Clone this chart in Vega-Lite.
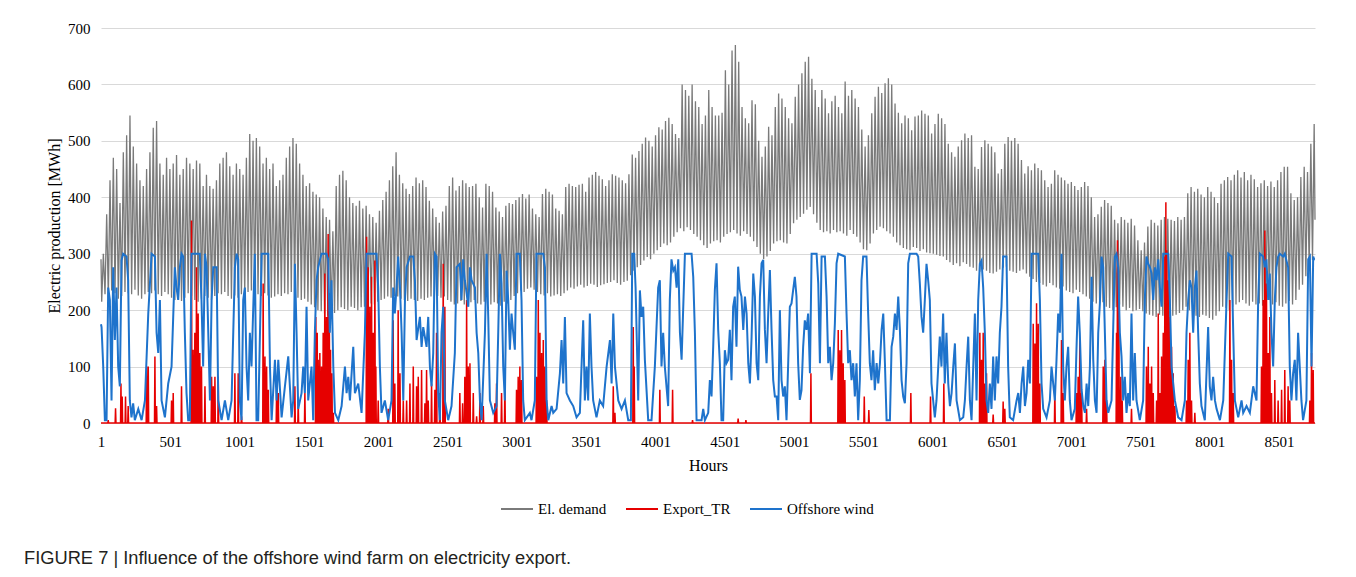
{
"$schema":"https://vega.github.io/schema/vega-lite/v6.json",
"width":1214,"height":395,
"autosize":{"type":"none"},
"padding":{"left":101,"top":28,"right":41,"bottom":154},
"background":"#ffffff",
"config":{"view":{"stroke":null},"font":"Liberation Serif","axis":{"labelFont":"Liberation Serif","titleFont":"Liberation Serif","labelColor":"#000000","titleColor":"#000000","titleFontWeight":"normal"},"legend":{"labelFont":"Liberation Serif"}},
"title":{"text":"FIGURE 7 | Influence of the offshore wind farm on electricity export.","orient":"bottom","anchor":"start","frame":"group","font":"Liberation Sans","fontSize":18.3,"fontWeight":"normal","color":"#231f20","baseline":"top","offset":33,"dx":-77},
"datasets":{
"dem":[{"h":1,"v":290},
{"h":6,"v":215},{"h":18,"v":300},{"h":30,"v":228},{"h":42,"v":370},{"h":54,"v":222},{"h":66,"v":430},{"h":78,"v":235},{"h":90,"v":470},{"h":102,"v":230},{"h":114,"v":450},{"h":126,"v":220},{"h":138,"v":390},{"h":150,"v":225},{"h":162,"v":480},
{"h":174,"v":232},{"h":186,"v":510},{"h":198,"v":230},{"h":210,"v":545},{"h":222,"v":228},{"h":234,"v":490},{"h":246,"v":236},{"h":258,"v":460},{"h":270,"v":226},{"h":282,"v":430},{"h":294,"v":220},{"h":306,"v":420},{"h":318,"v":228},{"h":330,"v":450},
{"h":342,"v":232},{"h":354,"v":480},{"h":366,"v":230},{"h":378,"v":523},{"h":390,"v":235},{"h":402,"v":535},{"h":414,"v":228},{"h":426,"v":460},{"h":438,"v":225},{"h":450,"v":440},{"h":462,"v":232},{"h":474,"v":470},{"h":486,"v":228},{"h":498,"v":450},
{"h":510,"v":222},{"h":522,"v":460},{"h":534,"v":218},{"h":546,"v":475},{"h":558,"v":225},{"h":570,"v":440},{"h":582,"v":216},{"h":594,"v":450},{"h":606,"v":222},{"h":618,"v":470},{"h":630,"v":230},{"h":642,"v":460},{"h":654,"v":225},{"h":666,"v":450},
{"h":678,"v":218},{"h":690,"v":465},{"h":702,"v":215},{"h":714,"v":460},{"h":726,"v":220},{"h":738,"v":420},{"h":750,"v":225},{"h":762,"v":440},{"h":774,"v":222},{"h":786,"v":420},{"h":798,"v":218},{"h":810,"v":415},{"h":822,"v":225},{"h":834,"v":430},
{"h":846,"v":230},{"h":858,"v":460},{"h":870,"v":228},{"h":882,"v":470},{"h":894,"v":232},{"h":906,"v":480},{"h":918,"v":225},{"h":930,"v":455},{"h":942,"v":220},{"h":954,"v":440},{"h":966,"v":226},{"h":978,"v":460},{"h":990,"v":222},{"h":1002,"v":450},
{"h":1014,"v":228},{"h":1026,"v":440},{"h":1038,"v":230},{"h":1050,"v":470},{"h":1062,"v":232},{"h":1074,"v":512},{"h":1086,"v":235},{"h":1098,"v":500},{"h":1110,"v":230},{"h":1122,"v":505},{"h":1134,"v":228},{"h":1146,"v":490},{"h":1158,"v":225},{"h":1170,"v":460},
{"h":1182,"v":230},{"h":1194,"v":470},{"h":1206,"v":226},{"h":1218,"v":450},{"h":1230,"v":222},{"h":1242,"v":460},{"h":1254,"v":224},{"h":1266,"v":420},{"h":1278,"v":228},{"h":1290,"v":430},{"h":1302,"v":225},{"h":1314,"v":440},{"h":1326,"v":230},{"h":1338,"v":470},
{"h":1350,"v":228},{"h":1362,"v":490},{"h":1374,"v":232},{"h":1386,"v":505},{"h":1398,"v":226},{"h":1410,"v":495},{"h":1422,"v":222},{"h":1434,"v":460},{"h":1446,"v":218},{"h":1458,"v":440},{"h":1470,"v":220},{"h":1482,"v":420},{"h":1494,"v":215},{"h":1506,"v":425},
{"h":1518,"v":210},{"h":1530,"v":410},{"h":1542,"v":205},{"h":1554,"v":405},{"h":1566,"v":200},{"h":1578,"v":400},{"h":1590,"v":198},{"h":1602,"v":380},{"h":1614,"v":194},{"h":1626,"v":365},{"h":1638,"v":190},{"h":1650,"v":360},{"h":1662,"v":188},{"h":1674,"v":340},
{"h":1686,"v":195},{"h":1698,"v":420},{"h":1710,"v":200},{"h":1722,"v":440},{"h":1734,"v":205},{"h":1746,"v":447},{"h":1758,"v":202},{"h":1770,"v":430},{"h":1782,"v":200},{"h":1794,"v":400},{"h":1806,"v":206},{"h":1818,"v":390},{"h":1830,"v":204},{"h":1842,"v":385},
{"h":1854,"v":200},{"h":1866,"v":394},{"h":1878,"v":205},{"h":1890,"v":380},{"h":1902,"v":206},{"h":1914,"v":385},{"h":1926,"v":208},{"h":1938,"v":370},{"h":1950,"v":212},{"h":1962,"v":365},{"h":1974,"v":210},{"h":1986,"v":355},{"h":1998,"v":215},{"h":2010,"v":376},
{"h":2022,"v":218},{"h":2034,"v":395},{"h":2046,"v":220},{"h":2058,"v":410},{"h":2070,"v":224},{"h":2082,"v":430},{"h":2094,"v":222},{"h":2106,"v":455},{"h":2118,"v":225},{"h":2130,"v":480},{"h":2142,"v":224},{"h":2154,"v":440},{"h":2166,"v":220},{"h":2178,"v":425},
{"h":2190,"v":218},{"h":2202,"v":415},{"h":2214,"v":216},{"h":2226,"v":406},{"h":2238,"v":220},{"h":2250,"v":420},{"h":2262,"v":218},{"h":2274,"v":435},{"h":2286,"v":216},{"h":2298,"v":425},{"h":2310,"v":220},{"h":2322,"v":430},{"h":2334,"v":218},{"h":2346,"v":418},
{"h":2358,"v":222},{"h":2370,"v":394},{"h":2382,"v":224},{"h":2394,"v":380},{"h":2406,"v":220},{"h":2418,"v":365},{"h":2430,"v":225},{"h":2442,"v":355},{"h":2454,"v":222},{"h":2466,"v":375},{"h":2478,"v":224},{"h":2490,"v":385},{"h":2502,"v":218},{"h":2514,"v":420},
{"h":2526,"v":215},{"h":2538,"v":435},{"h":2550,"v":210},{"h":2562,"v":412},{"h":2574,"v":212},{"h":2586,"v":420},{"h":2598,"v":216},{"h":2610,"v":430},{"h":2622,"v":210},{"h":2634,"v":425},{"h":2646,"v":208},{"h":2658,"v":418},{"h":2670,"v":214},{"h":2682,"v":420},
{"h":2694,"v":218},{"h":2706,"v":424},{"h":2718,"v":212},{"h":2730,"v":400},{"h":2742,"v":210},{"h":2754,"v":382},{"h":2766,"v":215},{"h":2778,"v":424},{"h":2790,"v":212},{"h":2802,"v":420},{"h":2814,"v":210},{"h":2826,"v":410},{"h":2838,"v":214},{"h":2850,"v":382},
{"h":2862,"v":212},{"h":2874,"v":375},{"h":2886,"v":208},{"h":2898,"v":365},{"h":2910,"v":215},{"h":2922,"v":385},{"h":2934,"v":212},{"h":2946,"v":390},{"h":2958,"v":218},{"h":2970,"v":388},{"h":2982,"v":225},{"h":2994,"v":395},{"h":3006,"v":230},{"h":3018,"v":400},
{"h":3030,"v":235},{"h":3042,"v":406},{"h":3054,"v":232},{"h":3066,"v":398},{"h":3078,"v":238},{"h":3090,"v":405},{"h":3102,"v":240},{"h":3114,"v":380},{"h":3126,"v":236},{"h":3138,"v":370},{"h":3150,"v":232},{"h":3162,"v":365},{"h":3174,"v":228},{"h":3186,"v":406},
{"h":3198,"v":226},{"h":3210,"v":415},{"h":3222,"v":230},{"h":3234,"v":410},{"h":3246,"v":224},{"h":3258,"v":405},{"h":3270,"v":226},{"h":3282,"v":380},{"h":3294,"v":228},{"h":3306,"v":376},{"h":3318,"v":225},{"h":3330,"v":370},{"h":3342,"v":230},{"h":3354,"v":418},
{"h":3366,"v":235},{"h":3378,"v":424},{"h":3390,"v":240},{"h":3402,"v":420},{"h":3414,"v":238},{"h":3426,"v":418},{"h":3438,"v":242},{"h":3450,"v":422},{"h":3462,"v":245},{"h":3474,"v":424},{"h":3486,"v":240},{"h":3498,"v":410},{"h":3510,"v":243},{"h":3522,"v":435},
{"h":3534,"v":247},{"h":3546,"v":440},{"h":3558,"v":245},{"h":3570,"v":445},{"h":3582,"v":241},{"h":3594,"v":438},{"h":3606,"v":244},{"h":3618,"v":432},{"h":3630,"v":246},{"h":3642,"v":420},{"h":3654,"v":248},{"h":3666,"v":430},{"h":3678,"v":250},{"h":3690,"v":441},
{"h":3702,"v":253},{"h":3714,"v":438},{"h":3726,"v":248},{"h":3738,"v":435},{"h":3750,"v":245},{"h":3762,"v":430},{"h":3774,"v":250},{"h":3786,"v":425},{"h":3798,"v":252},{"h":3810,"v":441},{"h":3822,"v":262},{"h":3834,"v":476},{"h":3846,"v":270},{"h":3858,"v":470},
{"h":3870,"v":276},{"h":3882,"v":482},{"h":3894,"v":280},{"h":3906,"v":495},{"h":3918,"v":288},{"h":3930,"v":506},{"h":3942,"v":294},{"h":3954,"v":500},{"h":3966,"v":290},{"h":3978,"v":490},{"h":3990,"v":300},{"h":4002,"v":510},{"h":4014,"v":306},{"h":4026,"v":524},
{"h":4038,"v":312},{"h":4050,"v":520},{"h":4062,"v":318},{"h":4074,"v":535},{"h":4086,"v":315},{"h":4098,"v":541},{"h":4110,"v":320},{"h":4122,"v":530},{"h":4134,"v":330},{"h":4146,"v":512},{"h":4158,"v":338},{"h":4170,"v":505},{"h":4182,"v":345},{"h":4194,"v":600},
{"h":4206,"v":340},{"h":4218,"v":590},{"h":4230,"v":347},{"h":4242,"v":580},{"h":4254,"v":342},{"h":4266,"v":600},{"h":4278,"v":335},{"h":4290,"v":570},{"h":4302,"v":330},{"h":4314,"v":560},{"h":4326,"v":324},{"h":4338,"v":530},{"h":4350,"v":315},{"h":4362,"v":545},
{"h":4374,"v":310},{"h":4386,"v":590},{"h":4398,"v":318},{"h":4410,"v":560},{"h":4422,"v":322},{"h":4434,"v":545},{"h":4446,"v":324},{"h":4458,"v":545},{"h":4470,"v":320},{"h":4482,"v":550},{"h":4494,"v":330},{"h":4506,"v":625},{"h":4518,"v":335},{"h":4530,"v":600},
{"h":4542,"v":338},{"h":4554,"v":660},{"h":4566,"v":342},{"h":4578,"v":670},{"h":4590,"v":336},{"h":4602,"v":640},{"h":4614,"v":332},{"h":4626,"v":560},{"h":4638,"v":340},{"h":4650,"v":540},{"h":4662,"v":335},{"h":4674,"v":531},{"h":4686,"v":330},{"h":4698,"v":572},
{"h":4710,"v":322},{"h":4722,"v":565},{"h":4734,"v":312},{"h":4746,"v":500},{"h":4758,"v":300},{"h":4770,"v":472},{"h":4782,"v":290},{"h":4794,"v":490},{"h":4806,"v":295},{"h":4818,"v":525},{"h":4830,"v":305},{"h":4842,"v":510},{"h":4854,"v":318},{"h":4866,"v":560},
{"h":4878,"v":322},{"h":4890,"v":584},{"h":4902,"v":324},{"h":4914,"v":575},{"h":4926,"v":320},{"h":4938,"v":560},{"h":4950,"v":318},{"h":4962,"v":540},{"h":4974,"v":335},{"h":4986,"v":531},{"h":4998,"v":354},{"h":5010,"v":578},{"h":5022,"v":360},{"h":5034,"v":600},
{"h":5046,"v":365},{"h":5058,"v":620},{"h":5070,"v":371},{"h":5082,"v":640},{"h":5094,"v":378},{"h":5106,"v":649},{"h":5118,"v":383},{"h":5130,"v":610},{"h":5142,"v":370},{"h":5154,"v":590},{"h":5166,"v":355},{"h":5178,"v":560},{"h":5190,"v":342},{"h":5202,"v":590},
{"h":5214,"v":338},{"h":5226,"v":575},{"h":5238,"v":340},{"h":5250,"v":549},{"h":5262,"v":336},{"h":5274,"v":570},{"h":5286,"v":342},{"h":5298,"v":580},{"h":5310,"v":338},{"h":5322,"v":560},{"h":5334,"v":340},{"h":5346,"v":549},{"h":5358,"v":336},{"h":5370,"v":605},
{"h":5382,"v":332},{"h":5394,"v":580},{"h":5406,"v":342},{"h":5418,"v":590},{"h":5430,"v":335},{"h":5442,"v":575},{"h":5454,"v":330},{"h":5466,"v":560},{"h":5478,"v":320},{"h":5490,"v":520},{"h":5502,"v":308},{"h":5514,"v":490},{"h":5526,"v":306},{"h":5538,"v":510},
{"h":5550,"v":318},{"h":5562,"v":549},{"h":5574,"v":336},{"h":5586,"v":578},{"h":5598,"v":342},{"h":5610,"v":596},{"h":5622,"v":348},{"h":5634,"v":585},{"h":5646,"v":345},{"h":5658,"v":602},{"h":5670,"v":340},{"h":5682,"v":611},{"h":5694,"v":336},{"h":5706,"v":600},
{"h":5718,"v":330},{"h":5730,"v":566},{"h":5742,"v":320},{"h":5754,"v":550},{"h":5766,"v":315},{"h":5778,"v":531},{"h":5790,"v":310},{"h":5802,"v":545},{"h":5814,"v":308},{"h":5826,"v":540},{"h":5838,"v":306},{"h":5850,"v":519},{"h":5862,"v":312},{"h":5874,"v":543},
{"h":5886,"v":310},{"h":5898,"v":545},{"h":5910,"v":305},{"h":5922,"v":554},{"h":5934,"v":308},{"h":5946,"v":548},{"h":5958,"v":302},{"h":5970,"v":545},{"h":5982,"v":301},{"h":5994,"v":513},{"h":6006,"v":300},{"h":6018,"v":530},{"h":6030,"v":298},{"h":6042,"v":548},
{"h":6054,"v":296},{"h":6066,"v":540},{"h":6078,"v":295},{"h":6090,"v":530},{"h":6102,"v":289},{"h":6114,"v":495},{"h":6126,"v":285},{"h":6138,"v":480},{"h":6150,"v":280},{"h":6162,"v":472},{"h":6174,"v":283},{"h":6186,"v":490},{"h":6198,"v":278},{"h":6210,"v":501},
{"h":6222,"v":285},{"h":6234,"v":513},{"h":6246,"v":282},{"h":6258,"v":505},{"h":6270,"v":277},{"h":6282,"v":510},{"h":6294,"v":275},{"h":6306,"v":454},{"h":6318,"v":270},{"h":6330,"v":450},{"h":6342,"v":268},{"h":6354,"v":489},{"h":6366,"v":272},{"h":6378,"v":501},
{"h":6390,"v":270},{"h":6402,"v":495},{"h":6414,"v":266},{"h":6426,"v":490},{"h":6438,"v":265},{"h":6450,"v":480},{"h":6462,"v":268},{"h":6474,"v":442},{"h":6486,"v":272},{"h":6498,"v":450},{"h":6510,"v":275},{"h":6522,"v":495},{"h":6534,"v":277},{"h":6546,"v":507},
{"h":6558,"v":270},{"h":6570,"v":500},{"h":6582,"v":268},{"h":6594,"v":505},{"h":6606,"v":266},{"h":6618,"v":495},{"h":6630,"v":270},{"h":6642,"v":466},{"h":6654,"v":272},{"h":6666,"v":442},{"h":6678,"v":265},{"h":6690,"v":455},{"h":6702,"v":259},{"h":6714,"v":448},
{"h":6726,"v":255},{"h":6738,"v":460},{"h":6750,"v":250},{"h":6762,"v":452},{"h":6774,"v":248},{"h":6786,"v":448},{"h":6798,"v":245},{"h":6810,"v":430},{"h":6822,"v":242},{"h":6834,"v":418},{"h":6846,"v":248},{"h":6858,"v":424},{"h":6870,"v":244},{"h":6882,"v":448},
{"h":6894,"v":240},{"h":6906,"v":440},{"h":6918,"v":238},{"h":6930,"v":435},{"h":6942,"v":242},{"h":6954,"v":430},{"h":6966,"v":235},{"h":6978,"v":424},{"h":6990,"v":232},{"h":7002,"v":427},{"h":7014,"v":230},{"h":7026,"v":420},{"h":7038,"v":236},{"h":7050,"v":413},
{"h":7062,"v":232},{"h":7074,"v":418},{"h":7086,"v":228},{"h":7098,"v":427},{"h":7110,"v":224},{"h":7122,"v":420},{"h":7134,"v":220},{"h":7146,"v":400},{"h":7158,"v":215},{"h":7170,"v":365},{"h":7182,"v":212},{"h":7194,"v":370},{"h":7206,"v":218},{"h":7218,"v":383},
{"h":7230,"v":214},{"h":7242,"v":395},{"h":7254,"v":206},{"h":7266,"v":390},{"h":7278,"v":204},{"h":7290,"v":385},{"h":7302,"v":200},{"h":7314,"v":360},{"h":7326,"v":205},{"h":7338,"v":354},{"h":7350,"v":210},{"h":7362,"v":365},{"h":7374,"v":206},{"h":7386,"v":360},
{"h":7398,"v":200},{"h":7410,"v":355},{"h":7422,"v":204},{"h":7434,"v":362},{"h":7446,"v":198},{"h":7458,"v":350},{"h":7470,"v":200},{"h":7482,"v":324},{"h":7494,"v":202},{"h":7506,"v":306},{"h":7518,"v":198},{"h":7530,"v":320},{"h":7542,"v":194},{"h":7554,"v":348},
{"h":7566,"v":192},{"h":7578,"v":360},{"h":7590,"v":190},{"h":7602,"v":355},{"h":7614,"v":188},{"h":7626,"v":350},{"h":7638,"v":192},{"h":7650,"v":360},{"h":7662,"v":190},{"h":7674,"v":365},{"h":7686,"v":194},{"h":7698,"v":362},{"h":7710,"v":188},{"h":7722,"v":360},
{"h":7734,"v":190},{"h":7746,"v":358},{"h":7758,"v":192},{"h":7770,"v":365},{"h":7782,"v":195},{"h":7794,"v":360},{"h":7806,"v":200},{"h":7818,"v":365},{"h":7830,"v":206},{"h":7842,"v":407},{"h":7854,"v":200},{"h":7866,"v":418},{"h":7878,"v":195},{"h":7890,"v":410},
{"h":7902,"v":190},{"h":7914,"v":415},{"h":7926,"v":188},{"h":7938,"v":405},{"h":7950,"v":192},{"h":7962,"v":400},{"h":7974,"v":190},{"h":7986,"v":418},{"h":7998,"v":186},{"h":8010,"v":410},{"h":8022,"v":183},{"h":8034,"v":400},{"h":8046,"v":190},{"h":8058,"v":390},
{"h":8070,"v":198},{"h":8082,"v":424},{"h":8094,"v":206},{"h":8106,"v":430},{"h":8118,"v":204},{"h":8130,"v":436},{"h":8142,"v":200},{"h":8154,"v":430},{"h":8166,"v":206},{"h":8178,"v":440},{"h":8190,"v":210},{"h":8202,"v":448},{"h":8214,"v":214},{"h":8226,"v":435},
{"h":8238,"v":218},{"h":8250,"v":445},{"h":8262,"v":212},{"h":8274,"v":430},{"h":8286,"v":208},{"h":8298,"v":440},{"h":8310,"v":215},{"h":8322,"v":432},{"h":8334,"v":210},{"h":8346,"v":418},{"h":8358,"v":212},{"h":8370,"v":425},{"h":8382,"v":208},{"h":8394,"v":430},
{"h":8406,"v":215},{"h":8418,"v":420},{"h":8430,"v":218},{"h":8442,"v":428},{"h":8454,"v":210},{"h":8466,"v":418},{"h":8478,"v":214},{"h":8490,"v":430},{"h":8502,"v":208},{"h":8514,"v":445},{"h":8526,"v":206},{"h":8538,"v":454},{"h":8550,"v":212},{"h":8562,"v":454},
{"h":8574,"v":216},{"h":8586,"v":407},{"h":8598,"v":210},{"h":8610,"v":395},{"h":8622,"v":218},{"h":8634,"v":400},{"h":8646,"v":236},{"h":8658,"v":436},{"h":8670,"v":245},{"h":8682,"v":454},{"h":8694,"v":260},{"h":8706,"v":445},{"h":8718,"v":275},{"h":8730,"v":495},
{"h":8742,"v":289},{"h":8754,"v":530},{"h":8760,"v":360}],
"exp":[{"h":1,"v":0},
{"h":50,"v":0},{"h":53,"v":5},{"h":56,"v":0},{"h":103,"v":0},{"h":106,"v":26},{"h":109,"v":0},{"h":142,"v":0},{"h":145,"v":70},{"h":148,"v":0},{"h":151,"v":0},{"h":154,"v":47},{"h":157,"v":0},{"h":175,"v":0},{"h":178,"v":47},{"h":181,"v":0},{"h":194,"v":0},{"h":197,"v":30},{"h":200,"v":0},
{"h":327,"v":0},{"h":330,"v":100},{"h":333,"v":0},{"h":339,"v":0},{"h":342,"v":100},{"h":345,"v":0},{"h":387,"v":0},{"h":390,"v":118},{"h":393,"v":0},{"h":399,"v":0},{"h":402,"v":30},{"h":405,"v":0},
{"h":507,"v":0},{"h":510,"v":40},{"h":513,"v":0},{"h":519,"v":0},{"h":522,"v":53},{"h":525,"v":0},{"h":579,"v":0},{"h":582,"v":65},{"h":585,"v":0},
{"h":651,"v":0},{"h":654,"v":359},{"h":657,"v":0},{"h":663,"v":0},{"h":666,"v":130},{"h":669,"v":0},{"h":675,"v":0},{"h":678,"v":160},{"h":681,"v":0},{"h":687,"v":0},{"h":690,"v":276},{"h":693,"v":0},{"h":699,"v":0},{"h":702,"v":194},{"h":705,"v":0},{"h":711,"v":0},{"h":714,"v":124},{"h":717,"v":0},{"h":723,"v":0},{"h":726,"v":100},{"h":729,"v":0},
{"h":748,"v":0},{"h":751,"v":65},{"h":754,"v":0},{"h":796,"v":0},{"h":799,"v":82},{"h":802,"v":0},{"h":808,"v":0},{"h":811,"v":65},{"h":814,"v":0},{"h":820,"v":0},{"h":823,"v":82},{"h":826,"v":0},{"h":844,"v":0},{"h":847,"v":82},{"h":850,"v":0},
{"h":964,"v":0},{"h":967,"v":88},{"h":970,"v":0},{"h":988,"v":0},{"h":991,"v":88},{"h":994,"v":0},{"h":1012,"v":0},{"h":1015,"v":12},{"h":1018,"v":0},
{"h":1168,"v":0},{"h":1171,"v":247},{"h":1174,"v":0},{"h":1181,"v":0},{"h":1184,"v":118},{"h":1187,"v":0},{"h":1193,"v":0},{"h":1196,"v":100},{"h":1199,"v":0},{"h":1205,"v":0},{"h":1208,"v":59},{"h":1211,"v":0},
{"h":1265,"v":0},{"h":1268,"v":59},{"h":1271,"v":0},{"h":1277,"v":0},{"h":1280,"v":53},{"h":1283,"v":0},{"h":1397,"v":0},{"h":1400,"v":65},{"h":1403,"v":0},{"h":1421,"v":0},{"h":1424,"v":40},{"h":1427,"v":0},{"h":1469,"v":0},{"h":1472,"v":53},{"h":1475,"v":0},
{"h":1548,"v":0},{"h":1551,"v":188},{"h":1554,"v":0},{"h":1558,"v":0},{"h":1561,"v":160},{"h":1564,"v":0},{"h":1565,"v":0},{"h":1568,"v":112},{"h":1571,"v":0},{"h":1577,"v":0},{"h":1580,"v":124},{"h":1583,"v":0},{"h":1589,"v":0},{"h":1592,"v":100},{"h":1595,"v":0},{"h":1601,"v":0},{"h":1604,"v":160},{"h":1607,"v":0},{"h":1613,"v":0},{"h":1616,"v":265},{"h":1619,"v":0},{"h":1625,"v":0},{"h":1628,"v":188},{"h":1631,"v":0},{"h":1637,"v":0},{"h":1640,"v":335},{"h":1643,"v":0},{"h":1645,"v":0},{"h":1648,"v":230},{"h":1651,"v":0},{"h":1654,"v":0},{"h":1657,"v":130},{"h":1660,"v":0},{"h":1664,"v":0},{"h":1667,"v":88},{"h":1670,"v":0},{"h":1674,"v":0},{"h":1677,"v":18},{"h":1680,"v":0},
{"h":1914,"v":0},{"h":1917,"v":330},{"h":1920,"v":0},{"h":1926,"v":0},{"h":1929,"v":276},{"h":1932,"v":0},{"h":1938,"v":0},{"h":1941,"v":206},{"h":1944,"v":0},{"h":1950,"v":0},{"h":1953,"v":259},{"h":1956,"v":0},{"h":1962,"v":0},{"h":1965,"v":160},{"h":1968,"v":0},{"h":1974,"v":0},{"h":1977,"v":288},{"h":1980,"v":0},{"h":1981,"v":0},{"h":1984,"v":100},{"h":1987,"v":0},{"h":1998,"v":0},{"h":2001,"v":40},{"h":2004,"v":0},
{"h":2070,"v":0},{"h":2073,"v":25},{"h":2076,"v":0},{"h":2106,"v":0},{"h":2109,"v":182},{"h":2112,"v":0},{"h":2118,"v":0},{"h":2121,"v":70},{"h":2124,"v":0},{"h":2142,"v":0},{"h":2145,"v":200},{"h":2148,"v":0},{"h":2155,"v":0},{"h":2158,"v":88},{"h":2161,"v":0},{"h":2179,"v":0},{"h":2182,"v":40},{"h":2185,"v":0},{"h":2203,"v":0},{"h":2206,"v":40},{"h":2209,"v":0},{"h":2227,"v":0},{"h":2230,"v":70},{"h":2233,"v":0},{"h":2251,"v":0},{"h":2254,"v":100},{"h":2257,"v":0},{"h":2275,"v":0},{"h":2278,"v":65},{"h":2281,"v":0},{"h":2287,"v":0},{"h":2290,"v":82},{"h":2293,"v":0},{"h":2311,"v":0},{"h":2314,"v":94},{"h":2317,"v":0},{"h":2335,"v":0},{"h":2338,"v":35},{"h":2341,"v":0},{"h":2347,"v":0},{"h":2350,"v":94},{"h":2353,"v":0},{"h":2359,"v":0},{"h":2362,"v":40},{"h":2365,"v":0},{"h":2383,"v":0},{"h":2386,"v":70},{"h":2389,"v":0},{"h":2407,"v":0},{"h":2410,"v":59},{"h":2413,"v":0},{"h":2419,"v":0},{"h":2422,"v":160},{"h":2425,"v":0},{"h":2443,"v":0},{"h":2446,"v":53},{"h":2449,"v":0},{"h":2467,"v":0},{"h":2470,"v":282},{"h":2473,"v":0},{"h":2479,"v":0},{"h":2482,"v":206},{"h":2485,"v":0},
{"h":2587,"v":0},{"h":2590,"v":53},{"h":2593,"v":0},{"h":2607,"v":0},{"h":2610,"v":35},{"h":2613,"v":0},{"h":2623,"v":0},{"h":2626,"v":82},{"h":2629,"v":0},{"h":2636,"v":0},{"h":2639,"v":218},{"h":2642,"v":0},{"h":2648,"v":0},{"h":2651,"v":100},{"h":2654,"v":0},{"h":2660,"v":0},{"h":2663,"v":106},{"h":2666,"v":0},{"h":2684,"v":0},{"h":2687,"v":53},{"h":2690,"v":0},{"h":2708,"v":0},{"h":2711,"v":12},{"h":2714,"v":0},{"h":2732,"v":0},{"h":2735,"v":53},{"h":2738,"v":0},{"h":2756,"v":0},{"h":2759,"v":30},{"h":2762,"v":0},
{"h":2840,"v":0},{"h":2843,"v":35},{"h":2846,"v":0},{"h":2852,"v":0},{"h":2855,"v":70},{"h":2858,"v":0},{"h":2888,"v":0},{"h":2891,"v":53},{"h":2894,"v":0},{"h":2912,"v":0},{"h":2915,"v":76},{"h":2918,"v":0},
{"h":2996,"v":0},{"h":2999,"v":59},{"h":3002,"v":0},{"h":3008,"v":0},{"h":3011,"v":82},{"h":3014,"v":0},{"h":3020,"v":0},{"h":3023,"v":100},{"h":3026,"v":0},{"h":3032,"v":0},{"h":3035,"v":76},{"h":3038,"v":0},
{"h":3140,"v":0},{"h":3143,"v":82},{"h":3146,"v":0},{"h":3153,"v":0},{"h":3156,"v":218},{"h":3159,"v":0},{"h":3165,"v":0},{"h":3168,"v":160},{"h":3171,"v":0},{"h":3177,"v":0},{"h":3180,"v":124},{"h":3183,"v":0},{"h":3189,"v":0},{"h":3192,"v":147},{"h":3195,"v":0},{"h":3201,"v":0},{"h":3204,"v":100},{"h":3207,"v":0},{"h":3213,"v":0},{"h":3216,"v":40},{"h":3219,"v":0},
{"h":3694,"v":0},{"h":3697,"v":65},{"h":3700,"v":0},{"h":3706,"v":0},{"h":3709,"v":18},{"h":3712,"v":0},{"h":3838,"v":0},{"h":3841,"v":170},{"h":3844,"v":0},{"h":3845,"v":0},{"h":3848,"v":100},{"h":3851,"v":0},
{"h":4030,"v":0},{"h":4033,"v":59},{"h":4036,"v":0},{"h":4122,"v":0},{"h":4125,"v":59},{"h":4128,"v":0},{"h":4266,"v":0},{"h":4269,"v":5},{"h":4272,"v":0},
{"h":4595,"v":0},{"h":4598,"v":8},{"h":4601,"v":0},{"h":4651,"v":0},{"h":4654,"v":5},{"h":4657,"v":0},{"h":5120,"v":0},{"h":5123,"v":88},{"h":5126,"v":0},
{"h":5317,"v":0},{"h":5320,"v":165},{"h":5323,"v":0},{"h":5329,"v":0},{"h":5332,"v":129},{"h":5335,"v":0},{"h":5341,"v":0},{"h":5344,"v":165},{"h":5347,"v":0},{"h":5353,"v":0},{"h":5356,"v":106},{"h":5359,"v":0},{"h":5365,"v":0},{"h":5368,"v":76},{"h":5371,"v":0},
{"h":5505,"v":0},{"h":5508,"v":47},{"h":5511,"v":0},{"h":5538,"v":0},{"h":5541,"v":23},{"h":5544,"v":0},{"h":5841,"v":0},{"h":5844,"v":53},{"h":5847,"v":0},
{"h":5983,"v":0},{"h":5986,"v":47},{"h":5989,"v":0},{"h":6079,"v":0},{"h":6082,"v":70},{"h":6085,"v":0},
{"h":6339,"v":0},{"h":6342,"v":160},{"h":6345,"v":0},{"h":6351,"v":0},{"h":6354,"v":112},{"h":6357,"v":0},{"h":6363,"v":0},{"h":6366,"v":160},{"h":6369,"v":0},{"h":6375,"v":0},{"h":6378,"v":70},{"h":6381,"v":0},{"h":6387,"v":0},{"h":6390,"v":88},{"h":6393,"v":0},{"h":6435,"v":0},{"h":6438,"v":15},{"h":6441,"v":0},{"h":6507,"v":0},{"h":6510,"v":38},{"h":6513,"v":0},{"h":6519,"v":0},{"h":6522,"v":25},{"h":6525,"v":0},
{"h":6724,"v":0},{"h":6727,"v":176},{"h":6730,"v":0},{"h":6736,"v":0},{"h":6739,"v":141},{"h":6742,"v":0},{"h":6748,"v":0},{"h":6751,"v":212},{"h":6754,"v":0},{"h":6760,"v":0},{"h":6763,"v":176},{"h":6766,"v":0},{"h":6772,"v":0},{"h":6775,"v":70},{"h":6778,"v":0},
{"h":6880,"v":0},{"h":6883,"v":59},{"h":6886,"v":0},{"h":6928,"v":0},{"h":6931,"v":147},{"h":6934,"v":0},{"h":6940,"v":0},{"h":6943,"v":53},{"h":6946,"v":0},
{"h":7036,"v":0},{"h":7039,"v":53},{"h":7042,"v":0},{"h":7048,"v":0},{"h":7051,"v":82},{"h":7054,"v":0},{"h":7060,"v":0},{"h":7063,"v":147},{"h":7066,"v":0},{"h":7073,"v":0},{"h":7076,"v":53},{"h":7079,"v":0},{"h":7109,"v":0},{"h":7112,"v":25},{"h":7115,"v":0},
{"h":7229,"v":0},{"h":7232,"v":100},{"h":7235,"v":0},{"h":7241,"v":0},{"h":7244,"v":112},{"h":7247,"v":0},{"h":7253,"v":0},{"h":7256,"v":40},{"h":7259,"v":0},
{"h":7325,"v":0},{"h":7328,"v":160},{"h":7331,"v":0},{"h":7332,"v":0},{"h":7335,"v":324},{"h":7338,"v":0},{"h":7342,"v":0},{"h":7345,"v":218},{"h":7348,"v":0},{"h":7356,"v":0},{"h":7359,"v":82},{"h":7362,"v":0},{"h":7366,"v":0},{"h":7369,"v":40},{"h":7372,"v":0},{"h":7433,"v":0},{"h":7436,"v":25},{"h":7439,"v":0},
{"h":7541,"v":0},{"h":7544,"v":100},{"h":7547,"v":0},{"h":7554,"v":0},{"h":7557,"v":135},{"h":7560,"v":0},{"h":7566,"v":0},{"h":7569,"v":70},{"h":7572,"v":0},{"h":7578,"v":0},{"h":7581,"v":100},{"h":7584,"v":0},{"h":7590,"v":0},{"h":7593,"v":53},{"h":7596,"v":0},{"h":7614,"v":0},{"h":7617,"v":40},{"h":7620,"v":0},{"h":7626,"v":0},{"h":7629,"v":194},{"h":7632,"v":0},{"h":7638,"v":0},{"h":7641,"v":53},{"h":7644,"v":0},{"h":7650,"v":0},{"h":7653,"v":118},{"h":7656,"v":0},{"h":7662,"v":0},{"h":7665,"v":160},{"h":7668,"v":0},{"h":7674,"v":0},{"h":7677,"v":295},{"h":7680,"v":0},{"h":7681,"v":0},{"h":7684,"v":391},{"h":7687,"v":0},{"h":7688,"v":0},{"h":7691,"v":306},{"h":7694,"v":0},{"h":7698,"v":0},{"h":7701,"v":253},{"h":7704,"v":0},{"h":7710,"v":0},{"h":7713,"v":188},{"h":7716,"v":0},{"h":7722,"v":0},{"h":7725,"v":135},{"h":7728,"v":0},{"h":7734,"v":0},{"h":7737,"v":88},{"h":7740,"v":0},{"h":7746,"v":0},{"h":7749,"v":30},{"h":7752,"v":0},
{"h":7830,"v":0},{"h":7833,"v":40},{"h":7836,"v":0},{"h":7842,"v":0},{"h":7845,"v":112},{"h":7848,"v":0},{"h":7854,"v":0},{"h":7857,"v":160},{"h":7860,"v":0},{"h":7866,"v":0},{"h":7869,"v":40},{"h":7872,"v":0},{"h":7890,"v":0},{"h":7893,"v":18},{"h":7896,"v":0},
{"h":8143,"v":0},{"h":8146,"v":218},{"h":8149,"v":0},{"h":8155,"v":0},{"h":8158,"v":112},{"h":8161,"v":0},{"h":8167,"v":0},{"h":8170,"v":53},{"h":8173,"v":0},
{"h":8371,"v":0},{"h":8374,"v":100},{"h":8377,"v":0},{"h":8383,"v":0},{"h":8386,"v":218},{"h":8389,"v":0},{"h":8395,"v":0},{"h":8398,"v":341},{"h":8401,"v":0},{"h":8407,"v":0},{"h":8410,"v":247},{"h":8413,"v":0},{"h":8419,"v":0},{"h":8422,"v":124},{"h":8425,"v":0},{"h":8431,"v":0},{"h":8434,"v":188},{"h":8437,"v":0},{"h":8443,"v":0},{"h":8446,"v":53},{"h":8449,"v":0},{"h":8467,"v":0},{"h":8470,"v":76},{"h":8473,"v":0},{"h":8491,"v":0},{"h":8494,"v":40},{"h":8497,"v":0},{"h":8516,"v":0},{"h":8519,"v":59},{"h":8522,"v":0},{"h":8539,"v":0},{"h":8542,"v":94},{"h":8545,"v":0},{"h":8563,"v":0},{"h":8566,"v":65},{"h":8569,"v":0},{"h":8575,"v":0},{"h":8578,"v":40},{"h":8581,"v":0},
{"h":8720,"v":0},{"h":8723,"v":40},{"h":8726,"v":0},{"h":8732,"v":0},{"h":8735,"v":124},{"h":8738,"v":0},{"h":8744,"v":0},{"h":8747,"v":94},{"h":8750,"v":0},{"h":8760,"v":0}],
"wind":[{"h":1,"v":175},{"h":5,"v":170},{"h":17,"v":100},{"h":29,"v":5},{"h":41,"v":5},{"h":53,"v":240},{"h":65,"v":218},{"h":77,"v":40},{"h":89,"v":276},{"h":101,"v":147},{"h":113,"v":240},{"h":125,"v":100},{"h":137,"v":65},{"h":149,"v":288},{"h":161,"v":300},{"h":185,"v":295},{"h":197,"v":253},{"h":209,"v":40},{"h":221,"v":10},{"h":233,"v":35},{"h":245,"v":5},{"h":270,"v":25},{"h":294,"v":5},{"h":318,"v":40},{"h":342,"v":194},{"h":366,"v":300},{"h":390,"v":295},{"h":402,"v":160},{"h":414,"v":124},{"h":426,"v":218},{"h":438,"v":40},{"h":462,"v":10},{"h":486,"v":70},{"h":510,"v":100},{"h":534,"v":276},{"h":546,"v":240},{"h":558,"v":218},{"h":570,"v":276},{"h":582,"v":300},{"h":594,"v":295},{"h":606,"v":160},{"h":618,"v":53},{"h":630,"v":5},{"h":642,"v":5},{"h":654,"v":300},{"h":678,"v":300},{"h":714,"v":300},{"h":726,"v":218},{"h":738,"v":100},{"h":751,"v":300},{"h":763,"v":276},{"h":775,"v":160},{"h":787,"v":40},{"h":799,"v":218},{"h":811,"v":276},{"h":835,"v":276},{"h":847,"v":40},{"h":871,"v":5},{"h":895,"v":40},{"h":919,"v":5},{"h":943,"v":40},{"h":967,"v":276},{"h":979,"v":300},{"h":991,"v":290},{"h":1003,"v":40},{"h":1015,"v":5},{"h":1027,"v":218},{"h":1039,"v":240},{"h":1051,"v":100},{"h":1063,"v":40},{"h":1075,"v":160},{"h":1087,"v":100},{"h":1111,"v":300},{"h":1123,"v":5},{"h":1135,"v":5},{"h":1160,"v":300},{"h":1208,"v":300},{"h":1220,"v":100},{"h":1232,"v":5},{"h":1256,"v":112},{"h":1268,"v":40},{"h":1280,"v":112},{"h":1304,"v":10},{"h":1328,"v":65},{"h":1352,"v":118},{"h":1376,"v":10},{"h":1388,"v":40},{"h":1400,"v":282},{"h":1412,"v":160},{"h":1424,"v":25},{"h":1448,"v":53},{"h":1460,"v":100},
{"h":1472,"v":53},{"h":1484,"v":206},{"h":1496,"v":40},{"h":1520,"v":100},{"h":1532,"v":5},{"h":1544,"v":160},{"h":1556,"v":253},{"h":1568,"v":276},{"h":1592,"v":300},{"h":1628,"v":300},{"h":1640,"v":290},{"h":1652,"v":160},{"h":1664,"v":253},{"h":1677,"v":100},{"h":1689,"v":18},{"h":1713,"v":5},{"h":1737,"v":30},{"h":1761,"v":100},{"h":1773,"v":53},{"h":1785,"v":82},{"h":1797,"v":40},{"h":1821,"v":135},{"h":1833,"v":53},{"h":1857,"v":70},{"h":1881,"v":18},{"h":1905,"v":160},{"h":1917,"v":300},{"h":1989,"v":300},{"h":2001,"v":240},{"h":2013,"v":100},{"h":2025,"v":18},{"h":2049,"v":40},{"h":2073,"v":5},{"h":2097,"v":40},{"h":2109,"v":240},{"h":2121,"v":194},{"h":2133,"v":240},{"h":2145,"v":295},{"h":2158,"v":240},{"h":2170,"v":160},{"h":2182,"v":40},{"h":2194,"v":218},{"h":2206,"v":276},{"h":2230,"v":295},{"h":2254,"v":295},{"h":2266,"v":253},{"h":2278,"v":147},{"h":2302,"v":188},{"h":2314,"v":135},{"h":2326,"v":170},{"h":2350,"v":135},{"h":2362,"v":188},{"h":2374,"v":100},{"h":2386,"v":65},{"h":2398,"v":124},{"h":2410,"v":300},{"h":2422,"v":295},{"h":2434,"v":53},{"h":2446,"v":5},{"h":2458,"v":160},{"h":2470,"v":206},{"h":2482,"v":40},{"h":2506,"v":5},{"h":2530,"v":30},{"h":2554,"v":124},{"h":2566,"v":276},{"h":2590,"v":282},{"h":2602,"v":218},{"h":2614,"v":290},{"h":2626,"v":253},{"h":2639,"v":230},{"h":2651,"v":206},{"h":2663,"v":276},{"h":2675,"v":253},{"h":2699,"v":240},{"h":2711,"v":160},{"h":2723,"v":124},{"h":2735,"v":40},{"h":2747,"v":5},{"h":2771,"v":160},{"h":2783,"v":300},{"h":2795,"v":188},{"h":2807,"v":40},{"h":2831,"v":18},{"h":2855,"v":30},{"h":2867,"v":160},{"h":2879,"v":300},{"h":2891,"v":247},{"h":2903,"v":100},{"h":2915,"v":40},
{"h":2927,"v":270},{"h":2939,"v":218},{"h":2951,"v":130},{"h":2963,"v":194},{"h":2975,"v":160},{"h":2987,"v":130},{"h":2999,"v":300},{"h":3023,"v":300},{"h":3035,"v":218},{"h":3047,"v":40},{"h":3059,"v":5},{"h":3095,"v":18},{"h":3107,"v":5},{"h":3131,"v":40},{"h":3143,"v":300},{"h":3192,"v":300},{"h":3204,"v":276},{"h":3216,"v":40},{"h":3228,"v":5},{"h":3252,"v":30},{"h":3264,"v":18},{"h":3288,"v":25},{"h":3312,"v":88},{"h":3324,"v":147},{"h":3336,"v":70},{"h":3348,"v":188},{"h":3360,"v":53},{"h":3384,"v":40},{"h":3408,"v":30},{"h":3432,"v":10},{"h":3456,"v":18},{"h":3480,"v":182},{"h":3492,"v":40},{"h":3504,"v":100},{"h":3516,"v":40},{"h":3528,"v":194},{"h":3540,"v":100},{"h":3552,"v":40},{"h":3576,"v":10},{"h":3600,"v":40},{"h":3624,"v":30},{"h":3649,"v":100},{"h":3673,"v":147},{"h":3685,"v":70},{"h":3697,"v":194},{"h":3709,"v":100},{"h":3733,"v":40},{"h":3757,"v":25},{"h":3781,"v":40},{"h":3805,"v":5},{"h":3824,"v":5},{"h":3834,"v":300},{"h":3848,"v":300},{"h":3858,"v":240},{"h":3877,"v":40},{"h":3889,"v":235},{"h":3901,"v":188},{"h":3913,"v":206},{"h":3925,"v":112},{"h":3949,"v":5},{"h":3973,"v":5},{"h":3997,"v":100},{"h":4021,"v":240},{"h":4033,"v":253},{"h":4045,"v":100},{"h":4057,"v":160},{"h":4069,"v":100},{"h":4093,"v":30},{"h":4105,"v":218},{"h":4117,"v":290},{"h":4130,"v":270},{"h":4142,"v":276},{"h":4154,"v":240},{"h":4166,"v":290},{"h":4178,"v":160},{"h":4190,"v":112},{"h":4214,"v":300},{"h":4262,"v":300},{"h":4274,"v":259},{"h":4286,"v":160},{"h":4298,"v":5},{"h":4334,"v":5},{"h":4346,"v":25},{"h":4358,"v":5},{"h":4382,"v":18},
{"h":4394,"v":76},{"h":4406,"v":47},{"h":4418,"v":135},{"h":4430,"v":236},{"h":4442,"v":283},{"h":4454,"v":165},{"h":4466,"v":106},{"h":4478,"v":5},{"h":4490,"v":5},{"h":4502,"v":129},{"h":4514,"v":106},{"h":4526,"v":112},{"h":4538,"v":165},{"h":4550,"v":76},{"h":4562,"v":206},{"h":4574,"v":224},{"h":4586,"v":135},{"h":4598,"v":277},{"h":4610,"v":236},{"h":4622,"v":224},{"h":4635,"v":165},{"h":4647,"v":224},{"h":4659,"v":194},{"h":4671,"v":106},{"h":4683,"v":70},{"h":4695,"v":153},{"h":4707,"v":265},{"h":4719,"v":224},{"h":4731,"v":106},{"h":4743,"v":76},{"h":4755,"v":224},{"h":4767,"v":283},{"h":4779,"v":289},{"h":4791,"v":165},{"h":4803,"v":106},{"h":4815,"v":194},{"h":4827,"v":271},{"h":4839,"v":165},{"h":4851,"v":76},{"h":4863,"v":47},{"h":4875,"v":47},{"h":4887,"v":5},{"h":4899,"v":200},{"h":4911,"v":76},{"h":4923,"v":47},{"h":4935,"v":65},{"h":4947,"v":5},{"h":4959,"v":106},{"h":4971,"v":206},{"h":4983,"v":212},{"h":4995,"v":236},{"h":5007,"v":259},{"h":5019,"v":224},{"h":5031,"v":106},{"h":5043,"v":41},{"h":5055,"v":58},{"h":5067,"v":135},{"h":5079,"v":182},{"h":5091,"v":165},{"h":5103,"v":194},{"h":5116,"v":88},{"h":5128,"v":300},{"h":5164,"v":300},{"h":5176,"v":247},{"h":5188,"v":106},{"h":5200,"v":295},{"h":5224,"v":295},{"h":5236,"v":224},{"h":5248,"v":106},{"h":5260,"v":135},{"h":5272,"v":76},{"h":5284,"v":106},{"h":5296,"v":177},{"h":5308,"v":283},{"h":5320,"v":300},{"h":5368,"v":295},{"h":5380,"v":194},{"h":5392,"v":106},{"h":5404,"v":129},{"h":5416,"v":76},{"h":5428,"v":106},{"h":5440,"v":47},{"h":5452,"v":106},{"h":5464,"v":5},{"h":5476,"v":76},{"h":5488,"v":253},{"h":5500,"v":295},{"h":5524,"v":295},{"h":5536,"v":194},{"h":5548,"v":106},{"h":5560,"v":76},{"h":5572,"v":129},{"h":5584,"v":58},{"h":5597,"v":106},{"h":5609,"v":70},{"h":5621,"v":106},{"h":5633,"v":165},{"h":5645,"v":194},{"h":5657,"v":106},{"h":5669,"v":5},{"h":5693,"v":5},{"h":5705,"v":135},{"h":5717,"v":153},{"h":5729,"v":194},{"h":5741,"v":165},{"h":5753,"v":224},{"h":5765,"v":165},{"h":5777,"v":76},{"h":5789,"v":47},{"h":5801,"v":35},{"h":5813,"v":106},{"h":5825,"v":283},{"h":5837,"v":300},{"h":5885,"v":300},{"h":5897,"v":295},
{"h":5909,"v":247},{"h":5921,"v":188},{"h":5933,"v":160},{"h":5945,"v":218},{"h":5957,"v":282},{"h":5969,"v":253},{"h":5981,"v":218},{"h":5993,"v":70},{"h":6005,"v":40},{"h":6017,"v":10},{"h":6029,"v":40},{"h":6053,"v":153},{"h":6065,"v":100},{"h":6077,"v":194},{"h":6089,"v":70},{"h":6101,"v":160},{"h":6114,"v":70},{"h":6126,"v":30},{"h":6138,"v":53},{"h":6150,"v":100},{"h":6162,"v":141},{"h":6174,"v":40},{"h":6198,"v":5},{"h":6222,"v":10},{"h":6234,"v":40},{"h":6246,"v":100},{"h":6258,"v":153},{"h":6270,"v":40},{"h":6282,"v":5},{"h":6306,"v":194},{"h":6318,"v":40},{"h":6330,"v":218},{"h":6342,"v":282},{"h":6354,"v":288},{"h":6366,"v":240},{"h":6378,"v":160},{"h":6390,"v":40},{"h":6402,"v":18},{"h":6414,"v":70},{"h":6426,"v":25},{"h":6438,"v":118},{"h":6450,"v":40},{"h":6462,"v":118},{"h":6474,"v":70},{"h":6486,"v":160},{"h":6498,"v":206},{"h":6510,"v":295},{"h":6534,"v":295},{"h":6546,"v":100},{"h":6558,"v":10},{"h":6582,"v":5},{"h":6607,"v":40},{"h":6619,"v":53},{"h":6631,"v":18},{"h":6643,"v":70},{"h":6655,"v":100},{"h":6667,"v":30},{"h":6679,"v":53},{"h":6691,"v":112},{"h":6703,"v":70},{"h":6715,"v":300},{"h":6763,"v":300},{"h":6775,"v":218},{"h":6787,"v":70},{"h":6799,"v":25},{"h":6823,"v":10},{"h":6847,"v":40},{"h":6859,"v":100},{"h":6883,"v":40},{"h":6895,"v":112},{"h":6907,"v":194},{"h":6919,"v":160},{"h":6931,"v":300},{"h":6943,"v":100},{"h":6955,"v":40},{"h":6967,"v":100},{"h":6979,"v":135},{"h":6991,"v":40},{"h":7003,"v":5},{"h":7027,"v":25},{"h":7039,"v":130},{"h":7051,"v":224},{"h":7063,"v":160},{"h":7076,"v":59},{"h":7088,"v":30},{"h":7100,"v":18},{"h":7112,"v":70},{"h":7124,"v":30},{"h":7136,"v":100},{"h":7148,"v":259},{"h":7160,"v":112},{"h":7172,"v":40},{"h":7184,"v":18},{"h":7196,"v":160},{"h":7208,"v":212},{"h":7220,"v":295},{"h":7232,"v":276},{"h":7244,"v":160},{"h":7256,"v":40},{"h":7268,"v":18},{"h":7292,"v":40},{"h":7316,"v":295},
{"h":7328,"v":300},{"h":7340,"v":276},{"h":7352,"v":160},{"h":7364,"v":118},{"h":7376,"v":40},{"h":7388,"v":82},{"h":7400,"v":18},{"h":7412,"v":53},{"h":7424,"v":30},{"h":7436,"v":194},{"h":7448,"v":40},{"h":7460,"v":124},{"h":7472,"v":40},{"h":7496,"v":5},{"h":7520,"v":40},{"h":7532,"v":218},{"h":7544,"v":295},{"h":7557,"v":282},{"h":7569,"v":276},{"h":7581,"v":265},{"h":7593,"v":218},{"h":7605,"v":276},{"h":7617,"v":253},{"h":7629,"v":290},{"h":7641,"v":240},{"h":7653,"v":206},{"h":7665,"v":300},{"h":7701,"v":300},{"h":7713,"v":218},{"h":7725,"v":100},{"h":7737,"v":70},{"h":7749,"v":40},{"h":7773,"v":10},{"h":7797,"v":5},{"h":7821,"v":40},{"h":7833,"v":160},{"h":7845,"v":218},{"h":7857,"v":253},{"h":7869,"v":240},{"h":7881,"v":160},{"h":7893,"v":240},{"h":7905,"v":270},{"h":7917,"v":160},{"h":7929,"v":70},{"h":7941,"v":30},{"h":7965,"v":5},{"h":7989,"v":170},{"h":8001,"v":65},{"h":8013,"v":40},{"h":8025,"v":82},{"h":8038,"v":40},{"h":8050,"v":25},{"h":8074,"v":5},{"h":8098,"v":40},{"h":8122,"v":218},{"h":8134,"v":300},{"h":8158,"v":295},{"h":8170,"v":160},{"h":8182,"v":40},{"h":8206,"v":10},{"h":8230,"v":40},{"h":8242,"v":18},{"h":8266,"v":30},{"h":8290,"v":18},{"h":8314,"v":65},{"h":8338,"v":40},{"h":8350,"v":218},{"h":8362,"v":300},{"h":8386,"v":295},{"h":8398,"v":276},{"h":8410,"v":290},{"h":8422,"v":218},{"h":8434,"v":265},{"h":8446,"v":160},{"h":8458,"v":100},{"h":8470,"v":218},{"h":8482,"v":276},{"h":8494,"v":295},{"h":8506,"v":300},{"h":8530,"v":295},{"h":8542,"v":300},{"h":8566,"v":276},{"h":8578,"v":100},{"h":8590,"v":40},{"h":8602,"v":88},{"h":8614,"v":112},{"h":8626,"v":40},{"h":8638,"v":160},{"h":8650,"v":100},{"h":8662,"v":40},{"h":8674,"v":5},{"h":8698,"v":40},{"h":8711,"v":290},{"h":8723,"v":295},{"h":8735,"v":100},{"h":8747,"v":295},{"h":8754,"v":290},{"h":8760,"v":290}]
},
"encoding":{
"x":{"field":"h","type":"quantitative","scale":{"domain":[1,8760],"nice":false,"zero":false},"axis":{"title":"Hours","values":[1,501,1001,1501,2001,2501,3001,3501,4001,4501,5001,5501,6001,6501,7001,7501,8001,8501],"format":"d","grid":false,"ticks":false,"domain":true,"domainColor":"#d9d9d9","labelFontSize":15,"labelPadding":11,"labelFlush":false,"labelOverlap":false,"titleFontSize":16,"titlePadding":8}},
"y":{"field":"v","type":"quantitative","scale":{"domain":[0,700],"nice":false},"axis":{"title":"Electric production [MWh]","values":[0,100,200,300,400,500,600,700],"grid":true,"gridColor":"#d9d9d9","gridWidth":1,"ticks":false,"domain":false,"labelFontSize":15,"labelPadding":11,"titleFontSize":16,"titlePadding":5}}
},
"layer":[
{"data":{"name":"dem"},"mark":{"type":"line","strokeWidth":1.3,"interpolate":"linear"},"encoding":{"color":{"datum":"El. demand","type":"nominal","scale":{"domain":["El. demand","Export_TR","Offshore wind"],"range":["#7a7a7a","#E60000","#1E73CC"]},"legend":{"title":null,"orient":"none","legendX":399,"legendY":464,"direction":"horizontal","symbolType":"stroke","symbolSize":1024,"symbolStrokeWidth":2,"labelFontSize":15,"labelFont":"Liberation Serif","labelColor":"#000000","labelOffset":4,"columnPadding":15,"padding":0}}}},
{"data":{"name":"exp"},"mark":{"type":"line","strokeWidth":1.5},"encoding":{"color":{"datum":"Export_TR","type":"nominal"}}},
{"data":{"name":"wind"},"mark":{"type":"line","strokeWidth":2},"encoding":{"color":{"datum":"Offshore wind","type":"nominal"}}}
]
}
